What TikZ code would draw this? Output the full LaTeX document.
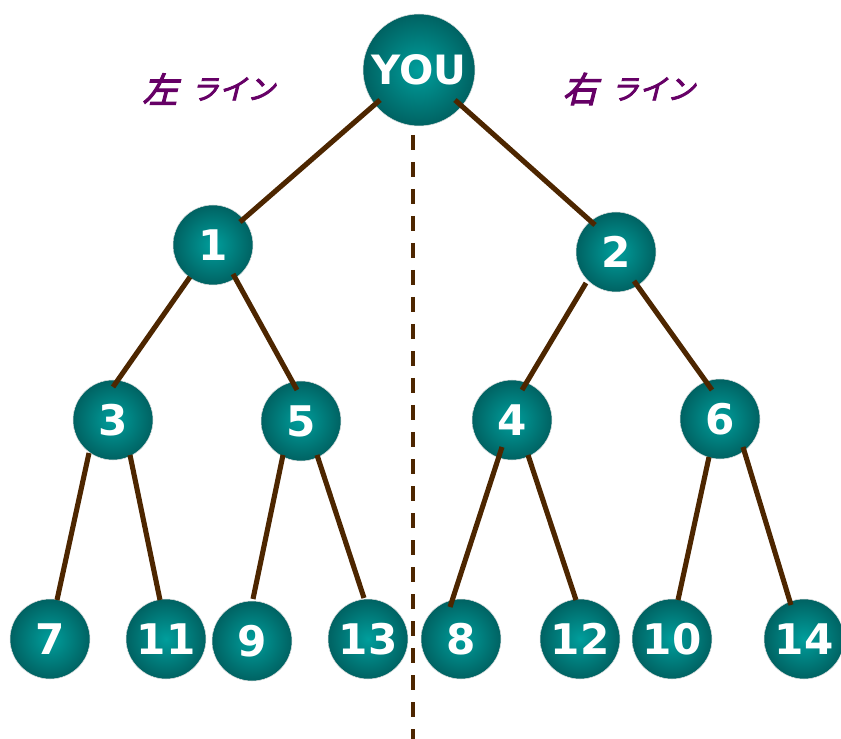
\documentclass[tikz,border=0pt]{standalone}
\usepackage{fontspec}
\usetikzlibrary{calc}
\newfontfamily\dvb{DejaVu Sans}
\newfontfamily\jpf[FakeSlant=0.25,FakeBold=3]{Noto Sans CJK JP}
\newcommand{\heavytext}[1]{\special{pdf:literal direct 2 Tr 1.8 w}#1\special{pdf:literal direct 0 Tr}}
\definecolor{tealin}{RGB}{0,158,156}
\definecolor{tealout}{RGB}{0,98,98}
\definecolor{branch}{RGB}{77,38,0}
\definecolor{lbl}{RGB}{102,0,102}
\tikzset{
  ball/.style={circle, minimum size=80*0.02cm, inner sep=0pt, inner color=tealin, outer color=tealout,
    draw=black!12, line width=0.3pt, text=white, font=\dvb\bfseries\fontsize{24}{24}\selectfont},
  bigball/.style={ball, minimum size=112*0.02cm, font=\dvb\bfseries\fontsize{23}{23}\selectfont},
  branchline/.style={draw=branch, line width=2.9pt},
  divider/.style={draw=branch, line width=2.2pt, dash pattern=on 15*0.02cm off 12*0.02cm},
  sidelbl/.style={text=lbl, inner sep=0pt}
}
\begin{document}
\begin{tikzpicture}[x=0.02cm,y=-0.02cm]
\useasboundingbox (0,0) rectangle (841,739);
% divider
\coordinate (dtop) at (413,135);
\coordinate (dbot) at (413,739);
\draw[divider] (dtop) -- (dbot);
% nodes
\node[bigball] (you) at (419,70) {YOU};
\node[ball] (n1) at (213,245) {1};
\node[ball] (n2) at (616,252) {2};
\node[ball] (n3) at (113,420) {3};
\node[ball] (n5) at (301,421) {5};
\node[ball] (n4) at (512,420) {4};
\node[ball] (n6) at (720,419) {6};
\node[ball] (n7) at (50,639) {7};
\node[ball] (n11) at (166,639) {11};
\node[ball] (n9) at (252,641) {9};
\node[ball] (n13) at (368,639) {13};
\node[ball] (n8) at (461,639) {8};
\node[ball] (n12) at (580,639) {12};
\node[ball] (n10) at (672,639) {10};
\node[ball] (n14) at (804,639) {14};
% labels
\node[sidelbl, font=\jpf\fontsize{20}{20}\selectfont] (lk) at (160,89) {\heavytext{左}};
\node[sidelbl, font=\jpf\fontsize{16}{16}\selectfont] (lr) at (233,89) {\heavytext{ライン}};
\node[sidelbl, font=\jpf\fontsize{20}{20}\selectfont] (rk) at (580,89) {\heavytext{右}};
\node[sidelbl, font=\jpf\fontsize{16}{16}\selectfont] (rr) at (653,89) {\heavytext{ライン}};
% branches
\draw[branchline] ($(you)+(-39,30)$) -- ($(n1)+(27,-23)$);
\draw[branchline] ($(you)+(36,30)$) -- ($(n2)+(-21,-27)$);
\draw[branchline] ($(n1)+(-23,32)$) -- ($(n3)+(0,-33)$);
\draw[branchline] ($(n1)+(20,29)$) -- ($(n5)+(-4,-31)$);
\draw[branchline] ($(n2)+(-30,31)$) -- ($(n4)+(10,-30)$);
\draw[branchline] ($(n2)+(18,29)$) -- ($(n6)+(-8,-29)$);
\draw[branchline] ($(n3)+(-24,33)$) -- ($(n7)+(7,-39)$);
\draw[branchline] ($(n3)+(17,35)$) -- ($(n11)+(-6,-39)$);
\draw[branchline] ($(n5)+(-18,34)$) -- ($(n9)+(1,-42)$);
\draw[branchline] ($(n5)+(16,34)$) -- ($(n13)+(-4,-41)$);
\draw[branchline] ($(n4)+(-10,27)$) -- ($(n8)+(-11,-32)$);
\draw[branchline] ($(n4)+(16,35)$) -- ($(n12)+(-4,-39)$);
\draw[branchline] ($(n6)+(-11,38)$) -- ($(n10)+(6,-39)$);
\draw[branchline] ($(n6)+(23,28)$) -- ($(n14)+(-13,-34)$);
\end{tikzpicture}
\end{document}
